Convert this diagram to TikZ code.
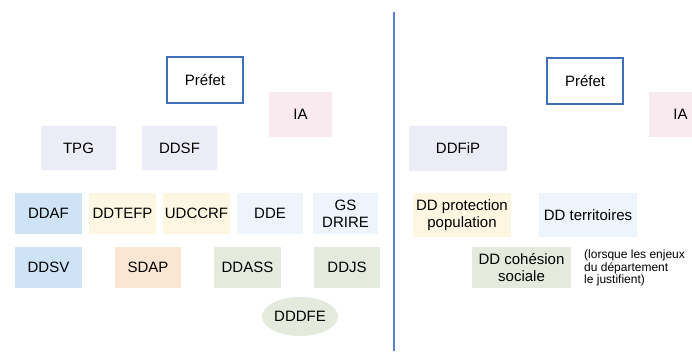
\documentclass[tikz,border=0pt]{standalone}
\usepackage{fontspec}
\setmainfont{Liberation Sans}
\usetikzlibrary{shapes.geometric}
\definecolor{lavbox}{HTML}{ECECF6}
\definecolor{pinkbox}{HTML}{F8EAEF}
\definecolor{bluebox}{HTML}{CFE3F6}
\definecolor{yellowbox}{HTML}{FDF7E2}
\definecolor{paleblue}{HTML}{EEF4FC}
\definecolor{peachbox}{HTML}{FBE6D4}
\definecolor{greenbox}{HTML}{E4EBDC}
\definecolor{prefline}{HTML}{3F6FB8}
\definecolor{sepline}{HTML}{5A7FCF}
\tikzset{
  box/.style={rectangle, inner sep=0pt, align=center, text=black,
    font=\fontsize{15}{17}\selectfont},
  prefbox/.style={box, draw=prefline, line width=1.3pt, fill=white,
    minimum width=76, minimum height=46},
  notetext/.style={inner sep=0pt, align=left, anchor=north west,
    font=\fontsize{12}{12.5}\selectfont},
}
\begin{document}
\begin{tikzpicture}[x=1pt,y=-1pt]
\clip (0,0) rectangle (692,351);
\fill[white] (0,0) rectangle (692,351);
% left side
\node[prefbox] (prefL) at (205,80) {Préfet};
\node[box, fill=pinkbox, minimum width=63, minimum height=45] (iaL) at (300.5,114.5) {IA};
\node[box, fill=lavbox, minimum width=75, minimum height=44] (tpg) at (78.5,148) {TPG};
\node[box, fill=lavbox, minimum width=75, minimum height=44] (ddsf) at (179.5,148) {DDSF};
\node[box, fill=bluebox, minimum width=67, minimum height=41] (ddaf) at (48.5,213.5) {DDAF};
\node[box, fill=yellowbox, minimum width=67, minimum height=41] (ddtefp) at (122.5,213.5) {DDTEFP};
\node[box, fill=yellowbox, minimum width=67, minimum height=41] (udccrf) at (196.5,213.5) {UDCCRF};
\node[box, fill=paleblue, minimum width=66, minimum height=41] (dde) at (270,213.5) {DDE};
\node[box, fill=paleblue, minimum width=65, minimum height=41] (gsdrire) at (345.5,213.5) {GS\\DRIRE};
\node[box, fill=bluebox, minimum width=67, minimum height=41] (ddsv) at (48.5,267.5) {DDSV};
\node[box, fill=peachbox, minimum width=66, minimum height=41] (sdap) at (148,267.5) {SDAP};
\node[box, fill=greenbox, minimum width=67, minimum height=41] (ddass) at (247.5,267.5) {DDASS};
\node[box, fill=greenbox, minimum width=66, minimum height=41] (ddjs) at (347,267.5) {DDJS};
\node[box, ellipse, fill=greenbox, minimum width=76, minimum height=39] (dddfe) at (300,316.5) {DDDFE};
% separator
\coordinate (sepTop) at (394,12);
\coordinate (sepBot) at (394,351);
\draw[sepline, line width=1.5pt] (sepTop) -- (sepBot);
% right side
\node[prefbox] (prefR) at (585,81) {Préfet};
\node[box, fill=pinkbox, minimum width=63, minimum height=45] (iaR) at (680.5,114.5) {IA};
\node[box, fill=lavbox, minimum width=98, minimum height=45] (ddfip) at (458,148.5) {DDFiP};
\node[box, fill=yellowbox, minimum width=98, minimum height=44] (ddpp) at (462,215) {DD protection\\population};
\node[box, fill=paleblue, minimum width=98, minimum height=44] (ddt) at (588,215) {DD territoires};
\node[box, fill=greenbox, minimum width=99, minimum height=41] (ddcs) at (521.5,267.5) {DD cohésion\\sociale};
\node[notetext] (note) at (584,250) {(lorsque les enjeux\\du département\\le justifient)};
\end{tikzpicture}
\end{document}
